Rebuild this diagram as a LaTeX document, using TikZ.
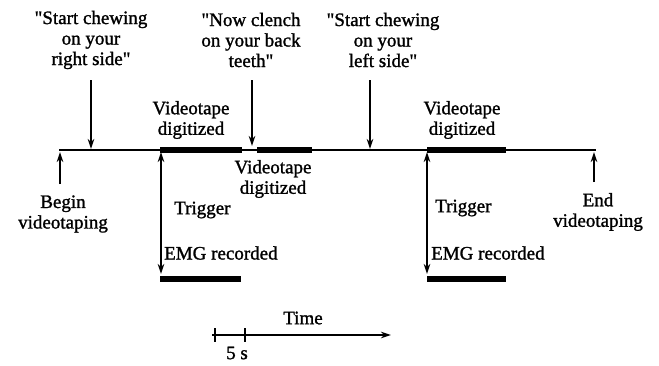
\documentclass[tikz,border=0pt]{standalone}
\usepackage{fontspec}
\setmainfont{Liberation Serif}[Ligatures=TeXOff, FakeBold=1.3]
\usetikzlibrary{arrows.meta}
\tikzset{
  lbl/.style={inner sep=0pt, align=center, font=\fontsize{19}{20.5}\selectfont},
  lbll/.style={inner sep=0pt, align=left, anchor=west, font=\fontsize{19}{20.5}\selectfont},
  arr/.style={line width=1.8pt, -{Stealth[length=10pt,width=6.5pt]}},
  darr/.style={line width=1.8pt, {Stealth[length=10pt,width=6.5pt]}-{Stealth[length=10pt,width=6.5pt]}},
  thin line/.style={line width=2pt},
  thick bar/.style={line width=5.5pt},
}
\begin{document}
\begin{tikzpicture}[x=1pt,y=-1pt]
\useasboundingbox (0,0) rectangle (659,365);
% timeline
\coordinate (L0) at (59,150);
\coordinate (L1) at (596,150);
\draw[thin line] (L0) -- (L1);
\coordinate (b1s) at (160,150); \coordinate (b1e) at (242,150);
\coordinate (b2s) at (257,150); \coordinate (b2e) at (312,150);
\coordinate (b3s) at (427,150); \coordinate (b3e) at (506,150);
\draw[thick bar] (b1s) -- (b1e);
\draw[thick bar] (b2s) -- (b2e);
\draw[thick bar] (b3s) -- (b3e);

% top instructions
\node[lbl] (t1) at (91,40) {"Start chewing\\on your\\right side"};
\node[lbl] (t2) at (251,40) {"Now clench\\on your back\\teeth"};
\node[lbl] (t3) at (383,40) {"Start chewing\\on your\\left side"};
\coordinate (a1s) at (91,80);  \coordinate (a1e) at (91,149);
\coordinate (a2s) at (252,80); \coordinate (a2e) at (252,146);
\coordinate (a3s) at (370,80); \coordinate (a3e) at (370,149);
\draw[arr] (a1s) -- (a1e);
\draw[arr] (a2s) -- (a2e);
\draw[arr] (a3s) -- (a3e);

% videotape digitized
\node[lbl] (v1) at (191,120) {Videotape\\digitized};
\node[lbl] (v2) at (273,179) {Videotape\\digitized};
\node[lbl] (v3) at (462,120) {Videotape\\digitized};

% begin / end
\coordinate (bs) at (60,184); \coordinate (be) at (60,152);
\draw[arr] (bs) -- (be);
\node[lbl] (begin) at (63,214) {Begin\\videotaping};
\coordinate (es) at (594,182); \coordinate (ee) at (594,152);
\draw[arr] (es) -- (ee);
\node[lbl] (end) at (598,212) {End\\videotaping};

% triggers
\coordinate (tr1s) at (161,152); \coordinate (tr1e) at (161,274);
\draw[darr] (tr1s) -- (tr1e);
\node[lbll] (trg1) at (174,210) {Trigger};
\node[lbll] (emg1) at (164,253) {EMG recorded};
\coordinate (e1s) at (160,279); \coordinate (e1e) at (241,279);
\draw[thick bar] (e1s) -- (e1e);

\coordinate (tr2s) at (427,152); \coordinate (tr2e) at (427,274);
\draw[darr] (tr2s) -- (tr2e);
\node[lbll] (trg2) at (435,208) {Trigger};
\node[lbll] (emg2) at (431,253) {EMG recorded};
\coordinate (e2s) at (427,279); \coordinate (e2e) at (506,279);
\draw[thick bar] (e2s) -- (e2e);

% time axis
\coordinate (T0) at (212,335); \coordinate (T1) at (391,335);
\draw[arr] (T0) -- (T1);
\coordinate (k1a) at (215,328); \coordinate (k1b) at (215,342);
\coordinate (k2a) at (245,328); \coordinate (k2b) at (245,342);
\draw[line width=1.8pt] (k1a) -- (k1b);
\draw[line width=1.8pt] (k2a) -- (k2b);
\node[lbl] (fs) at (237,353) {5 s};
\node[lbl] (time) at (303,318) {Time};
\end{tikzpicture}
\end{document}
